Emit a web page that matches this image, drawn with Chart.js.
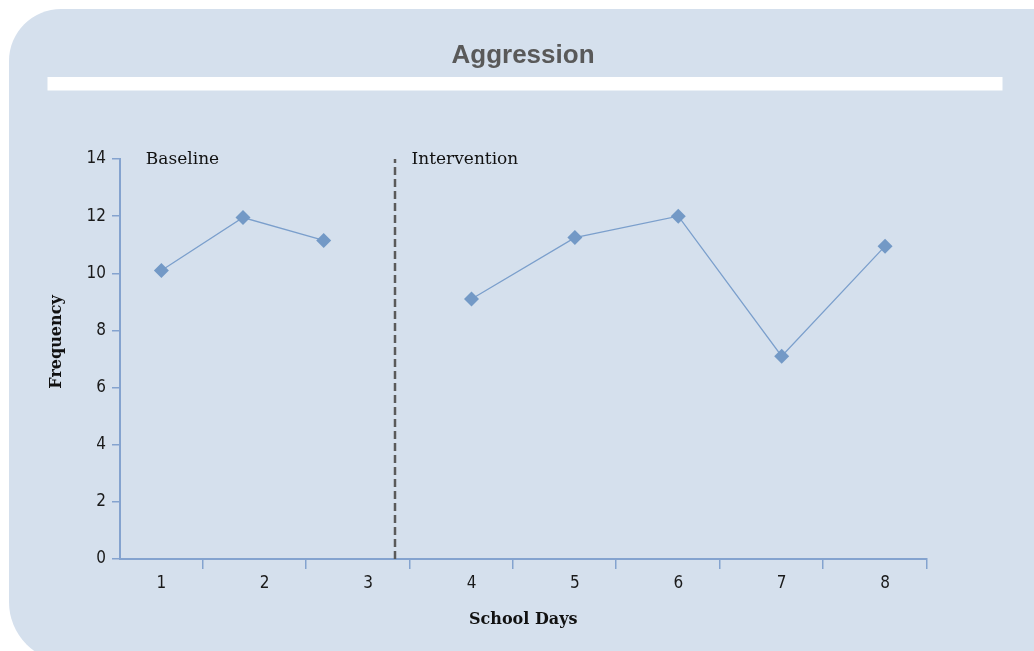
<!DOCTYPE html>
<html><head><meta charset="utf-8">
<script src="https://cdn.jsdelivr.net/npm/chart.js@4"></script>
<style>html,body{margin:0;padding:0;background:#fff;overflow:hidden}</style>
</head><body>
<canvas id="c" width="1034" height="651"></canvas>
<script>
const chartTitle = 'Aggression';
const xAxisTitle = 'School Days';
const yAxisTitle = 'Frequency';
const dayLabels = ['1', '2', '3', '4', '5', '6', '7', '8'];
const dayDividers = [1.4, 2.4, 3.4, 4.4, 5.4, 6.4, 7.4, 8.4];
const yTicks = [0, 2, 4, 6, 8, 10, 12, 14];
const baselineDays = [1, 1.79, 2.57];
const baselineValues = [10.1, 11.95, 11.15];
const interventionDays = [4, 5, 6, 7, 8];
const interventionValues = [9.1, 11.25, 12.0, 7.1, 10.95];
const phaseChangeDay = 3.26;
const phaseNames = ['Baseline', 'Intervention'];
const phaseLabelDays = [0.85, 3.42];

const axisColor = '#84a3cf';
const markColor = '#7399c6';
const condensed = "'DejaVu Sans Condensed', 'Liberation Sans Narrow', sans-serif";
const slab = "'DejaVu Serif', serif";

const panelPlugin = {
  id: 'panel',
  beforeDraw(chart) {
    const ctx = chart.ctx;
    ctx.save();
    ctx.fillStyle = '#ffffff';
    ctx.fillRect(0, 0, chart.width, chart.height);
    const L = 9, T = 9, R = 1040, B = 662, r1 = 52, r2 = 60;
    ctx.beginPath();
    ctx.moveTo(L + r1, T);
    ctx.lineTo(R, T);
    ctx.lineTo(R, B);
    ctx.lineTo(L + r2, B);
    ctx.arcTo(L, B, L, B - r2, r2);
    ctx.lineTo(L, T + r1);
    ctx.arcTo(L, T, L + r1, T, r1);
    ctx.closePath();
    ctx.fillStyle = '#d5e0ed';
    ctx.fill();
    ctx.fillStyle = '#ffffff';
    ctx.fillRect(47.5, 77, 955, 13.5);
    ctx.font = "bold 26px 'Liberation Sans', Arial, sans-serif";
    ctx.fillStyle = '#595959';
    ctx.textAlign = 'center';
    ctx.textBaseline = 'middle';
    ctx.fillText(chartTitle, 523, 56);
    ctx.restore();
  }
};

const textPlugin = {
  id: 'phaseLabels',
  afterDatasetsDraw(chart) {
    const ctx = chart.ctx, xs = chart.scales.x, ys = chart.scales.y;
    ctx.save();
    ctx.font = '17px ' + slab;
    ctx.fillStyle = '#111111';
    ctx.textBaseline = 'middle';
    ctx.textAlign = 'left';
    phaseNames.forEach((name, i) => {
      ctx.fillText(name, xs.getPixelForValue(phaseLabelDays[i]), ys.getPixelForValue(yTicks[yTicks.length - 1]) + 1);
    });
    ctx.translate(57, 342);
    ctx.rotate(-Math.PI / 2);
    ctx.textAlign = 'center';
    ctx.font = 'bold 16px ' + slab;
    ctx.fillText(yAxisTitle, 0, 0);
    ctx.restore();
  }
};

const toPoints = (xs, ys) => xs.map((x, i) => ({ x: x, y: ys[i] }));

new Chart(document.getElementById('c'), {
  type: 'scatter',
  data: {
    datasets: [
      {
        label: 'phase change',
        data: [{ x: phaseChangeDay, y: yTicks[0] }, { x: phaseChangeDay, y: yTicks[yTicks.length - 1] }],
        showLine: true,
        borderColor: '#5a5a5a',
        borderWidth: 2.5,
        borderDash: [8, 4],
        pointRadius: 0
      },
      {
        label: 'Baseline',
        data: toPoints(baselineDays, baselineValues),
        showLine: true,
        borderColor: '#7b9fcc',
        borderWidth: 1.3,
        pointStyle: 'rectRot',
        pointRadius: 7.5,
        pointBackgroundColor: markColor,
        pointBorderWidth: 0
      },
      {
        label: 'Intervention',
        data: toPoints(interventionDays, interventionValues),
        showLine: true,
        borderColor: '#7b9fcc',
        borderWidth: 1.3,
        pointStyle: 'rectRot',
        pointRadius: 7.5,
        pointBackgroundColor: markColor,
        pointBorderWidth: 0
      }
    ]
  },
  options: {
    responsive: false,
    animation: false,
    devicePixelRatio: 1,
    layout: { padding: { left: 0, right: 107.6, top: 159, bottom: 0 } },
    plugins: {
      legend: { display: false },
      tooltip: { enabled: false },
      title: { display: false }
    },
    scales: {
      x: {
        type: 'linear',
        min: 0.6,
        max: 8.4,
        afterBuildTicks(scale) {
          const t = dayLabels.map((_, i) => i + 1).concat(dayDividers);
          t.sort((a, b) => a - b);
          scale.ticks = t.map(v => ({ value: v }));
        },
        afterFit(scale) { scale.height = 92; },
        ticks: {
          autoSkip: false,
          maxRotation: 0,
          padding: 4,
          color: '#1a1a1a',
          font: { family: condensed, size: 17 },
          callback: (v) => Number.isInteger(v) ? dayLabels[v - 1] : ''
        },
        grid: {
          drawOnChartArea: false,
          tickLength: 10,
          lineWidth: 1.5,
          color: (c) => (c.tick && Number.isInteger(c.tick.value)) ? 'rgba(0,0,0,0)' : axisColor
        },
        border: { color: axisColor, width: 2 },
        title: {
          display: true,
          text: xAxisTitle,
          color: '#111111',
          font: { family: slab, size: 16, weight: 'bold' },
          padding: { top: 0, bottom: 21.5 }
        }
      },
      y: {
        min: 0,
        max: 14,
        afterBuildTicks(scale) { scale.ticks = yTicks.map(v => ({ value: v })); },
        afterFit(scale) { scale.width = 120; },
        ticks: {
          padding: 6,
          color: '#1a1a1a',
          font: { family: condensed, size: 17 }
        },
        grid: { drawOnChartArea: false, tickLength: 8, lineWidth: 1.5, color: axisColor },
        border: { color: axisColor, width: 2 },
        title: { display: false }
      }
    }
  },
  plugins: [panelPlugin, textPlugin]
});
</script>
</body></html>
